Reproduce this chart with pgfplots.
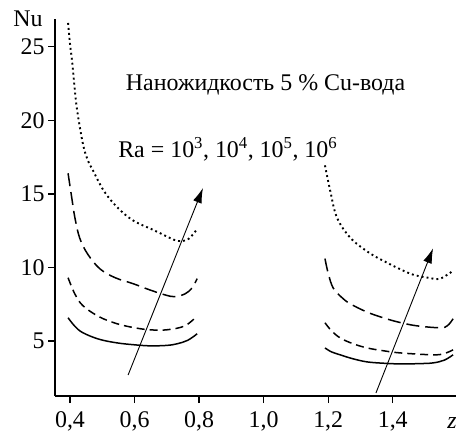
\documentclass[border=0pt]{standalone}
\usepackage{fontspec}
\setmainfont{Liberation Serif}
\usepackage{pgfplots}
\pgfplotsset{compat=1.18}
\usetikzlibrary{arrows.meta}
\begin{document}
\begin{tikzpicture}[font=\fontsize{24}{28}\selectfont]
\useasboundingbox (0,0) rectangle (456bp,435bp);
\begin{axis}[
  at={(55bp,39bp)}, anchor=south west,
  width=401bp, height=377bp, scale only axis,
  xmin=0.3535, xmax=1.596, ymin=1.26, ymax=26.89,
  axis x line*=bottom, axis y line*=left,
  axis line style={-, line width=1.5bp, shorten <=0pt, shorten >=0pt},
  tick style={line width=1.3bp, black},
  tick align=outside, major tick length=7bp,
  xtick={0.4,0.6,0.8,1.0,1.2,1.4},
  ytick={5,10,15,20,25},
  tick label style={font=\fontsize{24}{28}\selectfont},
  xticklabel style={yshift=-5bp, /pgf/number format/.cd, fixed, fixed zerofill, precision=1, use comma},
  /pgf/number format/assume math mode=true,
  clip=false,
  no markers,
  every axis plot/.append style={line width=1.5bp, black, smooth, tension=0.6, mark=none},
]
% Ra = 10^6 (dotted)
\addplot[black, line width=1.9bp, dash pattern=on 1.9bp off 3.1bp] coordinates {(0.394,26.62)(0.400,25.2)(0.406,24.1)(0.414,22.3)(0.422,20.7)(0.440,18.4)(0.455,17.3)(0.471,16.6)(0.505,15.2)(0.546,14.1)(0.595,13.2)(0.663,12.5)(0.705,12.05)(0.735,11.8)(0.765,11.9)(0.790,12.5)};
\addplot[black, line width=1.9bp, dash pattern=on 1.9bp off 3.1bp] coordinates {(1.19,16.94)(1.206,15.24)(1.227,13.4)(1.268,12.03)(1.32,11.1)(1.37,10.46)(1.454,9.58)(1.51,9.3)(1.547,9.24)(1.587,9.78)};
% Ra = 10^5 (long dashed)
\addplot[black, dash pattern=on 13bp off 6bp] coordinates {(0.394,16.4)(0.405,14.8)(0.415,13.4)(0.43,12.0)(0.455,10.9)(0.493,9.9)(0.54,9.3)(0.595,8.9)(0.65,8.45)(0.70,8.1)(0.725,8.02)(0.756,8.2)(0.778,8.6)(0.794,9.24)};
\addplot[black, dash pattern=on 13bp off 6bp] coordinates {(1.19,10.6)(1.2,9.6)(1.215,8.62)(1.24,8.0)(1.268,7.53)(1.32,6.97)(1.37,6.58)(1.42,6.27)(1.475,6.03)(1.547,5.9)(1.57,6.05)(1.587,6.51)};
% Ra = 10^4 (dashed)
\addplot[black, dash pattern=on 8bp off 5bp] coordinates {(0.394,9.3)(0.415,8.2)(0.44,7.4)(0.49,6.65)(0.546,6.17)(0.6,5.9)(0.648,5.76)(0.70,5.76)(0.756,6.03)(0.794,6.71)};
\addplot[black, dash pattern=on 8bp off 5bp] coordinates {(1.19,6.24)(1.21,5.7)(1.237,5.21)(1.275,4.83)(1.32,4.53)(1.37,4.34)(1.423,4.19)(1.525,4.06)(1.56,4.15)(1.587,4.4)};
% Ra = 10^3 (solid)
\addplot[black, solid] coordinates {(0.394,6.58)(0.415,6.0)(0.44,5.56)(0.49,5.12)(0.546,4.87)(0.6,4.74)(0.648,4.67)(0.70,4.7)(0.732,4.81)(0.765,5.05)(0.794,5.49)};
\addplot[black, solid] coordinates {(1.19,4.53)(1.21,4.26)(1.237,4.06)(1.275,3.8)(1.32,3.58)(1.37,3.49)(1.423,3.44)(1.48,3.46)(1.525,3.51)(1.56,3.7)(1.587,4.06)};
% arrows
\addplot[black, solid, line width=0.9bp, sharp plot, -{Latex[length=15bp,width=9bp]}] coordinates {(0.58,2.69)(0.812,15.4)};
\addplot[black, solid, line width=0.9bp, sharp plot, -{Latex[length=15bp,width=9bp]}] coordinates {(1.348,1.47)(1.525,11.3)};
% texts
\node[anchor=base] at (axis cs:1.006,22.0) {Наножидкость 5 \% Cu-вода};
\node[anchor=base west, inner sep=0pt] at (axis cs:0.549,17.5) {Ra = 10\textsuperscript{3}, 10\textsuperscript{4}, 10\textsuperscript{5}, 10\textsuperscript{6}};
\node[anchor=base east, inner sep=0pt] at (axis cs:0.316,26.35) {Nu};
\node[anchor=base, inner sep=0pt] at (axis cs:1.584,-0.95) {\itshape z};
\end{axis}
\end{tikzpicture}
\end{document}
